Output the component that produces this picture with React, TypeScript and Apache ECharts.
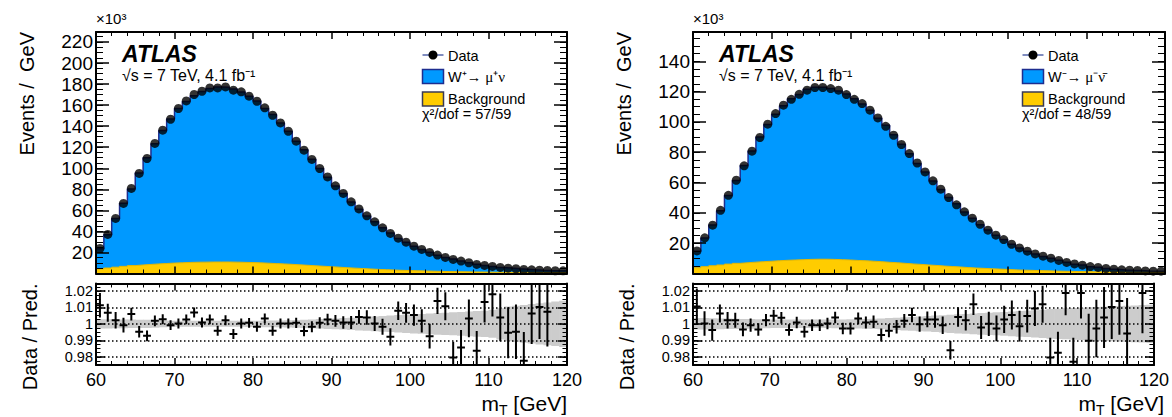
import React, { useEffect, useRef } from 'react';
import * as echarts from 'echarts';

// ---------- data ----------
const binCenters = [
  60.5, 61.5, 62.5, 63.5, 64.5, 65.5, 66.5, 67.5, 68.5, 69.5,
  70.5, 71.5, 72.5, 73.5, 74.5, 75.5, 76.5, 77.5, 78.5, 79.5,
  80.5, 81.5, 82.5, 83.5, 84.5, 85.5, 86.5, 87.5, 88.5, 89.5,
  90.5, 91.5, 92.5, 93.5, 94.5, 95.5, 96.5, 97.5, 98.5, 99.5,
  100.5, 101.5, 102.5, 103.5, 104.5, 105.5, 106.5, 107.5, 108.5, 109.5,
  110.5, 111.5, 112.5, 113.5, 114.5, 115.5, 116.5, 117.5, 118.5, 119.5,
];

// W+ (events / GeV, x10^3)
const dataPlus = [
  23.8, 37.1, 52.3, 66.6, 80.8, 95.1, 109.3, 123.6, 136.2, 146.6,
  156.8, 164.0, 170.1, 173.2, 176.4, 176.4, 177.3, 174.2, 172.6, 168.5,
  163.7, 157.4, 150.4, 143.1, 135.2, 125.7, 117.2, 108.4, 99.8, 91.8,
  83.3, 76.1, 68.1, 61.4, 54.8, 49.1, 43.4, 38.1, 33.6, 29.8,
  26.0, 22.9, 20.0, 17.5, 15.3, 13.4, 11.8, 10.2, 8.6, 7.7,
  6.7, 5.8, 5.1, 4.5, 3.9, 3.5, 3.2, 2.9, 2.6, 2.5,
];
const bkgPlus = [
  4.2, 5.2, 6.0, 6.8, 7.5, 8.1, 8.6, 9.1, 9.5, 9.9,
  10.2, 10.5, 10.7, 10.8, 10.9, 10.9, 10.9, 10.8, 10.6, 10.4,
  10.1, 9.8, 9.4, 9.1, 8.7, 8.2, 7.8, 7.3, 6.9, 6.4,
  6.0, 5.5, 5.1, 4.7, 4.3, 3.9, 3.6, 3.3, 3.0, 2.8,
  2.6, 2.4, 2.2, 2.0, 1.8, 1.7, 1.6, 1.5, 1.4, 1.3,
  1.2, 1.2, 1.1, 1.1, 1.0, 1.0, 1.0, 0.9, 0.9, 0.9,
];
const ratioPlus: (number | null)[] = [
  1.0113, 1.0067, 1.0022, 0.9992, 1.0059, 0.9952, 0.9927, 1.0018, 1.0028, 0.9992,
  1.0002, 1.0027, 1.0069, 1.0008, 1.0027, 0.9958, 1.0022, 0.9938, 1.0002, 1.0006,
  0.9982, 1.0033, 0.9958, 1.0002, 1.0002, 1.0006, 0.9956, 0.9982, 1.0006, 1.0027,
  1.0018, 1.0008, 1.0008, 1.0042, 1.0039, 1.0002, 0.9982, 0.9921, 1.0079, 1.0067,
  1.0053, 1.0018, 0.9925, 1.0139, 1.0107, 0.9796, 0.9857, 1.0033, 0.9836, 1.0133,
  1.018, 1.0039, 0.9946, 0.9952, 0.9776, 1.0063, 1.0103, 1.0073, null, null,
];
const ratioErrPlus = [
  0.0075, 0.0055, 0.005, 0.0045, 0.0038, 0.0035, 0.0033, 0.0032, 0.003, 0.003,
  0.003, 0.003, 0.003, 0.003, 0.003, 0.003, 0.003, 0.003, 0.003, 0.003,
  0.003, 0.003, 0.003, 0.003, 0.003, 0.0031, 0.0032, 0.0033, 0.0034, 0.0035,
  0.0036, 0.0038, 0.004, 0.0042, 0.0044, 0.0046, 0.0049, 0.0052, 0.0056, 0.006,
  0.0065, 0.007, 0.0075, 0.008, 0.0085, 0.0095, 0.0105, 0.0115, 0.012, 0.0125,
  0.0135, 0.0145, 0.0155, 0.0165, 0.0175, 0.0185, 0.0195, 0.021, 0.022, 0.023,
];
const bandPlus = [
  0.0028, 0.0028, 0.0027, 0.0027, 0.0026, 0.0025, 0.0025, 0.0024, 0.002, 0.0019,
  0.0018, 0.0018, 0.0018, 0.0018, 0.0018, 0.0018, 0.0018, 0.0018, 0.0018, 0.0019,
  0.0019, 0.002, 0.002, 0.0021, 0.0022, 0.0023, 0.0025, 0.0027, 0.0029, 0.0031,
  0.0033, 0.0035, 0.0037, 0.004, 0.0042, 0.0045, 0.0048, 0.005, 0.0053, 0.0056,
  0.0058, 0.006, 0.0063, 0.0066, 0.0068, 0.007, 0.0072, 0.0075, 0.0078, 0.008,
  0.0085, 0.0095, 0.0105, 0.011, 0.0115, 0.012, 0.0125, 0.013, 0.0135, 0.014,
];

// W- (events / GeV, x10^3)
const dataMinus = [
  14.9, 23.5, 31.9, 41.7, 51.6, 61.5, 71.0, 80.7, 89.7, 98.5,
  105.5, 111.0, 114.9, 118.2, 120.9, 122.7, 122.7, 122.0, 120.9, 118.0,
  114.9, 112.1, 107.7, 102.6, 97.1, 91.2, 85.1, 79.1, 72.9, 67.0,
  61.1, 55.6, 50.1, 45.3, 40.7, 36.5, 32.5, 28.6, 25.3, 22.4,
  19.3, 16.9, 14.7, 12.9, 11.4, 10.1, 8.6, 7.3, 6.3, 5.5,
  4.6, 4.0, 3.3, 2.8, 2.4, 2.2, 2.0, 1.7, 1.5, 1.5,
];
const bkgMinus = [
  3.8, 4.5, 5.1, 5.6, 6.2, 6.7, 7.1, 7.5, 7.8, 8.1,
  8.4, 8.7, 8.9, 9.1, 9.3, 9.4, 9.4, 9.3, 9.1, 8.9,
  8.6, 8.4, 8.1, 7.8, 7.4, 7.1, 6.7, 6.3, 6.0, 5.6,
  5.3, 4.9, 4.6, 4.3, 3.9, 3.6, 3.4, 3.1, 2.9, 2.7,
  2.4, 2.2, 2.1, 1.9, 1.8, 1.6, 1.5, 1.4, 1.3, 1.2,
  1.2, 1.1, 1.0, 1.0, 0.9, 0.9, 0.9, 0.8, 0.8, 0.8,
];
const ratioMinus: (number | null)[] = [
  1.0105, 1.0002, 0.9962, 1.0063, 1.0022, 1.0022, 0.9966, 0.9992, 0.9966, 1.0022,
  1.0049, 1.0037, 0.9962, 1.0008, 0.9952, 0.9992, 0.9992, 1.0002, 1.0039, 0.9972,
  0.9972, 1.0033, 1.0008, 1.0012, 0.9932, 0.9958, 0.9982, 1.0018, 1.0053, 0.9998,
  1.0027, 1.0027, 0.9992, 0.984, 1.0042, 1.0022, 1.0119, 0.9978, 1.0, 0.9972,
  1.0027, 1.0053, 0.9986, 1.0047, 1.0093, 1.0119, 0.9796, 0.9824, 1.0188, 0.977,
  1.0188, 0.9897, 0.9972, 1.0039, 1.0103, 1.0138, 0.9942, null, 1.0188, null,
];
const ratioErrMinus = [
  0.011, 0.0075, 0.0065, 0.0055, 0.005, 0.0045, 0.0042, 0.004, 0.0038, 0.0037,
  0.0036, 0.0035, 0.0035, 0.0035, 0.0035, 0.0035, 0.0035, 0.0035, 0.0035, 0.0035,
  0.0036, 0.0036, 0.0037, 0.0038, 0.0039, 0.004, 0.0041, 0.0042, 0.0044, 0.0046,
  0.0048, 0.005, 0.0053, 0.0056, 0.0059, 0.0062, 0.0066, 0.007, 0.0074, 0.0078,
  0.0083, 0.0088, 0.0094, 0.01, 0.0106, 0.0113, 0.012, 0.0128, 0.0136, 0.0145,
  0.0155, 0.0165, 0.0175, 0.0185, 0.0195, 0.0205, 0.0215, 0.0225, 0.0245, 0.026,
];
const bandMinus = [
  0.0035, 0.0035, 0.0034, 0.0033, 0.0032, 0.0031, 0.003, 0.003, 0.0028, 0.0027,
  0.0026, 0.0026, 0.0026, 0.0026, 0.0026, 0.0026, 0.0026, 0.0026, 0.0027, 0.0027,
  0.0028, 0.0029, 0.003, 0.0031, 0.0033, 0.0035, 0.0037, 0.004, 0.0042, 0.0045,
  0.0047, 0.005, 0.0052, 0.0055, 0.0058, 0.006, 0.0063, 0.0066, 0.0068, 0.007,
  0.0072, 0.0075, 0.0078, 0.008, 0.0083, 0.0086, 0.009, 0.0092, 0.0094, 0.0096,
  0.0098, 0.01, 0.0102, 0.0104, 0.0106, 0.0108, 0.011, 0.0112, 0.0114, 0.0116,
];

const xTickLabels = ['60', '70', '80', '90', '100', '110', '120'];
const ratioTicks = [0.98, 0.99, 1, 1.01, 1.02];
const ratioLabelsA = [0.98, 1, 1.02];
const ratioLabelsB = [0.99, 1.01];

// ---------- style ----------
const FONT = "'Liberation Sans', Arial, Helvetica, sans-serif";
const SERIF = "'Liberation Serif', 'Times New Roman', serif";
const BLUE = '#0099ff';
const BLUE_LINE = '#1d2d8f';
const YELLOW = '#ffcc00';
const BAND = '#cccccc';
const RATIO_LABEL_SIZE = 14.5;

const histPoints = (vals: number[]) => {
  const pts = binCenters.map((c, i) => [c - 0.5, vals[i]]);
  pts.push([binCenters[binCenters.length - 1] + 0.5, vals[vals.length - 1]]);
  return pts;
};

const ratioFmt = (v: number) => (Math.abs(v - 1) < 1e-9 ? '1' : v.toFixed(2));

function buildOption() {
  const grids = [
    { left: 96, top: 32, width: 471, height: 241.5 },
    { left: 96, top: 283.5, width: 471, height: 81.5 },
    { left: 693, top: 32, width: 472, height: 241.5 },
    { left: 693, top: 283.5, width: 472, height: 81.5 },
  ];

  const xAxis: any[] = [];
  grids.forEach((_, g) => {
    ['bottom', 'top'].forEach((pos) => {
      const labels = pos === 'bottom' && (g === 1 || g === 3);
      xAxis.push({
        type: 'value', gridIndex: g, position: pos, min: 60, max: 120, interval: 10, z: 10,
        axisLine: { show: true, onZero: false, lineStyle: { color: '#000', width: 2 } },
        axisTick: { show: true, inside: true, length: 7, lineStyle: { color: '#000', width: 1.5 } },
        minorTick: { show: true, splitNumber: 5, length: 4, lineStyle: { color: '#000', width: 1 } },
        splitLine: { show: false },
        axisLabel: {
          show: labels, margin: 6, color: '#000', fontSize: 18, fontFamily: FONT,
          showMinLabel: true, showMaxLabel: true,
          formatter: (v: number) => (xTickLabels.includes(String(v)) ? String(v) : ''),
        },
      });
    });
  });

  const yAxis: any[] = [];
  const mainY: number[] = [];
  const yMaxTop = [229.5, 159.3];
  grids.forEach((_, g) => {
    const isRatio = g === 1 || g === 3;
    const min = isRatio ? 0.975 : 0;
    const max = isRatio ? 1.0245 : yMaxTop[g === 0 ? 0 : 1];
    ['left', 'right'].forEach((pos) => {
      const labels = pos === 'left';
      if (labels) mainY.push(yAxis.length);
      // major
      yAxis.push(isRatio ? {
        type: 'value', gridIndex: g, position: pos, min, max, z: 10,
        axisLine: { show: true, onZero: false, lineStyle: { color: '#000', width: 2 } },
        axisTick: { show: true, inside: true, length: 9, customValues: ratioTicks, lineStyle: { color: '#000', width: 1.5 } },
        splitLine: { show: false },
        axisLabel: {
          show: labels, margin: 3, color: '#000', fontSize: RATIO_LABEL_SIZE, lineHeight: 14, fontFamily: FONT,
          customValues: ratioLabelsA, formatter: ratioFmt,
        },
      } : {
        type: 'value', gridIndex: g, position: pos, min, max, interval: 20, z: 10,
        axisLine: { show: true, onZero: false, lineStyle: { color: '#000', width: 2 } },
        axisTick: { show: true, inside: true, length: 13, lineStyle: { color: '#000', width: 1.5 } },
        splitLine: { show: false },
        axisLabel: {
          show: labels, margin: 3, color: '#000', fontSize: 19, fontFamily: FONT,
          formatter: (v: number) => (v > 0 && Math.abs(v % 20) < 1e-9 ? String(v) : ''),
        },
      });
      // minor
      yAxis.push({
        type: 'value', gridIndex: g, position: pos, min, max, interval: isRatio ? 0.0025 : 5, z: 10,
        axisLine: { show: false },
        axisTick: { show: true, inside: true, length: isRatio ? 4.5 : 7, lineStyle: { color: '#000', width: 1 } },
        splitLine: { show: false },
        axisLabel: { show: false },
      });
      // second label set for the ratio axis
      if (isRatio && labels) {
        yAxis.push({
          type: 'value', gridIndex: g, position: pos, min, max, z: 10,
          axisLine: { show: false },
          axisTick: { show: false },
          splitLine: { show: false },
          axisLabel: {
            show: true, margin: 3, color: '#000', fontSize: RATIO_LABEL_SIZE, lineHeight: 14, fontFamily: FONT,
            customValues: ratioLabelsB, formatter: ratioFmt,
          },
        });
      }
    });
  });

  const topSeries = (xi: number, yi: number, data: number[], bkg: number[], ratio: (number | null)[]) => {
    const pred = data.map((d, i) => (ratio[i] != null ? d / (ratio[i] as number) : d));
    return [
      {
        type: 'line', xAxisIndex: xi, yAxisIndex: yi, step: 'end', data: histPoints(pred),
        symbol: 'none', silent: true, z: 2,
        lineStyle: { color: BLUE_LINE, width: 1.5 },
        areaStyle: { color: BLUE, opacity: 1, origin: 'start' },
      },
      {
        type: 'line', xAxisIndex: xi, yAxisIndex: yi, step: 'end', data: histPoints(bkg),
        symbol: 'none', silent: true, z: 3,
        lineStyle: { color: '#e6b800', width: 1 },
        areaStyle: { color: YELLOW, opacity: 1, origin: 'start' },
      },
      {
        type: 'scatter', xAxisIndex: xi, yAxisIndex: yi, silent: true, z: 4,
        symbol: 'circle', symbolSize: 9, itemStyle: { color: '#000' },
        data: binCenters.map((c, i) => [c, data[i]]),
      },
    ];
  };

  const ratioSeries = (xi: number, yi: number, ratio: (number | null)[], err: number[], band: number[]) => [
    {
      type: 'line', xAxisIndex: xi, yAxisIndex: yi, data: [[60, 1]], symbol: 'none', silent: true, z: 1,
      lineStyle: { opacity: 0 },
      markLine: {
        silent: true, symbol: 'none', label: { show: false },
        lineStyle: { type: [1.5, 2.5], color: '#000', width: 1.5 },
        data: ratioTicks.map((v) => ({ yAxis: v })),
      },
    },
    {
      type: 'custom', xAxisIndex: xi, yAxisIndex: yi, clip: true, silent: true, z: 3,
      data: binCenters.map((c, i) => [c, band[i]]),
      renderItem: (_p: any, api: any) => {
        const c = api.value(0); const w = api.value(1);
        const p1 = api.coord([c - 0.5, 1 + w]);
        const p2 = api.coord([c + 0.5, 1 - w]);
        return { type: 'rect', shape: { x: p1[0], y: p1[1], width: p2[0] - p1[0] + 0.6, height: p2[1] - p1[1] }, style: { fill: BAND } };
      },
    },
    {
      type: 'custom', xAxisIndex: xi, yAxisIndex: yi, clip: true, silent: true, z: 4,
      data: binCenters.map((c, i) => (ratio[i] == null ? null : [c, ratio[i], err[i]])).filter((d) => d),
      renderItem: (_p: any, api: any) => {
        const c = api.value(0); const r = api.value(1); const e = api.value(2);
        const l = api.coord([c - 0.5, r]); const rr = api.coord([c + 0.5, r]);
        const t = api.coord([c, r + e]); const b = api.coord([c, r - e]);
        return {
          type: 'group',
          children: [
            { type: 'line', shape: { x1: l[0], y1: l[1], x2: rr[0], y2: rr[1] }, style: { stroke: '#000', lineWidth: 2 } },
            { type: 'line', shape: { x1: t[0], y1: t[1], x2: b[0], y2: b[1] }, style: { stroke: '#000', lineWidth: 2 } },
          ],
        };
      },
    },
  ];

  const series = [
    ...topSeries(0, mainY[0], dataPlus, bkgPlus, ratioPlus),
    ...ratioSeries(2, mainY[1], ratioPlus, ratioErrPlus, bandPlus),
    ...topSeries(4, mainY[2], dataMinus, bkgMinus, ratioMinus),
    ...ratioSeries(6, mainY[3], ratioMinus, ratioErrMinus, bandMinus),
  ];

  const txt = (x: number, y: number, text: string, size: number, extra: any = {}) => ({
    type: 'text', x, y, silent: true, z: 20,
    style: { text, fill: '#000', fontSize: size, fontFamily: FONT, textAlign: 'left', textVerticalAlign: 'middle', ...extra },
  });

  const panelGraphics = (dx: number, lx: number, sigRich: string, chi: string) => [
    txt(96 + dx, 18, '×10³', 15),
    txt(122 + dx, 54, 'ATLAS', 23, { fontWeight: 'bold', fontStyle: 'italic' }),
    txt(122 + dx, 75, '√s = 7 TeV, 4.1 fb⁻¹', 16),
    { type: 'line', silent: true, z: 20, shape: { x1: 422.5 + lx, y1: 55, x2: 443.5 + lx, y2: 55 }, style: { stroke: '#5566aa', lineWidth: 1.5 } },
    { type: 'circle', silent: true, z: 21, shape: { cx: 433 + lx, cy: 55, r: 4.5 }, style: { fill: '#000' } },
    txt(448 + lx, 55.5, 'Data', 14.5),
    { type: 'rect', silent: true, z: 20, shape: { x: 422.5 + lx, y: 69.5, width: 21, height: 14 }, style: { fill: BLUE, stroke: BLUE_LINE, lineWidth: 1.5 } },
    {
      type: 'text', x: 448 + lx, y: 77, silent: true, z: 20,
      style: {
        text: sigRich, textAlign: 'left', textVerticalAlign: 'middle', fill: '#000',
        rich: {
          a: { fontSize: 14.5, fontFamily: FONT, fill: '#000' },
          g: { fontSize: 15, fontFamily: SERIF, fill: '#000' },
        },
      },
    },
    { type: 'rect', silent: true, z: 20, shape: { x: 422.5 + lx, y: 92, width: 21, height: 14 }, style: { fill: YELLOW, stroke: '#3a3a55', lineWidth: 1.5 } },
    txt(448 + lx, 99, 'Background', 14.5),
    txt(422 + lx, 113.5, chi, 14.5),
    // y titles
    {
      type: 'text', x: 27 + dx, y: 32, rotation: Math.PI / 2, silent: true, z: 20,
      style: { text: 'Events /  GeV', fill: '#000', fontSize: 20, fontFamily: FONT, textAlign: 'right', textVerticalAlign: 'middle' },
    },
    {
      type: 'text', x: 30 + dx, y: 283.5, rotation: Math.PI / 2, silent: true, z: 20,
      style: { text: 'Data / Pred.', fill: '#000', fontSize: 20, fontFamily: FONT, textAlign: 'right', textVerticalAlign: 'middle' },
    },
    // x title
    {
      type: 'text', x: 567 + dx, y: 404, silent: true, z: 20,
      style: {
        text: '{m|m}{t|T}{g| [GeV]}', textAlign: 'right', textVerticalAlign: 'middle', fill: '#000',
        rich: {
          m: { fontSize: 21, fontFamily: FONT, lineHeight: 22, verticalAlign: 'top', fill: '#000' },
          t: { fontSize: 14, fontFamily: FONT, lineHeight: 14, padding: [10, 0, 0, 0], verticalAlign: 'top', fill: '#000' },
          g: { fontSize: 21, fontFamily: FONT, lineHeight: 22, verticalAlign: 'top', fill: '#000' },
        },
      },
    },
  ];

  const graphic = [
    ...panelGraphics(0, 0, '{a|W⁺→ }{g|μ⁺ν}', 'χ²/dof = 57/59'),
    ...panelGraphics(597, 600, '{a|W⁻→ }{g|μ⁻ν̄}', 'χ²/dof = 48/59'),
  ];

  return {
    animation: false,
    backgroundColor: '#fff',
    grid: grids,
    xAxis,
    yAxis,
    series,
    graphic,
  };
}

export default function App() {
  const ref = useRef<HTMLDivElement>(null);
  useEffect(() => {
    if (!ref.current) return;
    const chart = echarts.init(ref.current, null, { renderer: 'svg' });
    chart.setOption(buildOption() as any);
    return () => chart.dispose();
  }, []);
  return (
    <div
      ref={ref}
      style={{ position: 'absolute', left: 0, top: 0, width: 1172, height: 417, background: '#fff' }}
    />
  );
}
